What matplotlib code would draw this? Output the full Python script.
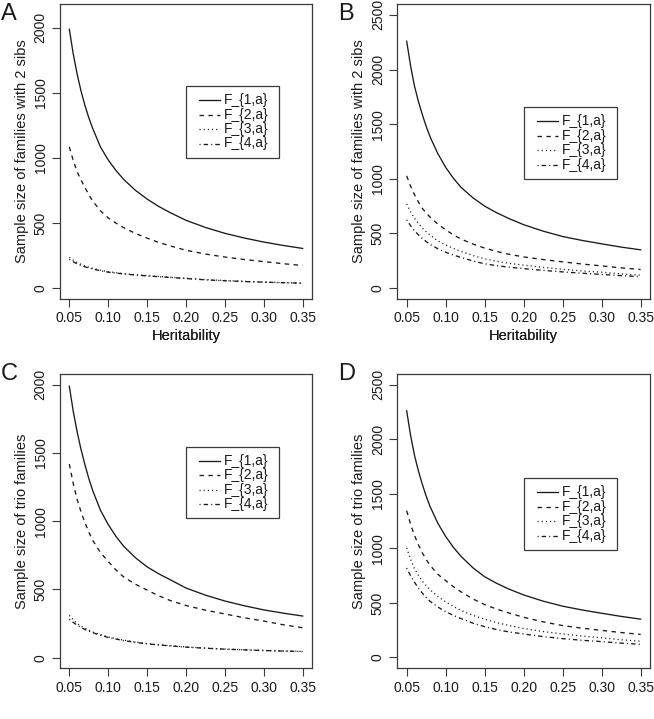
import matplotlib
matplotlib.use("Agg")
import matplotlib.pyplot as plt
from matplotlib.lines import Line2D
from matplotlib.patches import Rectangle

plt.rcParams['font.family'] = ['Liberation Sans', 'DejaVu Sans']
plt.rcParams['lines.scale_dashes'] = False

# ---------------- data ----------------
heritability = [0.05, 0.055, 0.06, 0.065, 0.07, 0.075, 0.08, 0.09, 0.10, 0.11, 0.12,
                0.135, 0.15, 0.165, 0.18, 0.20, 0.225, 0.25, 0.275, 0.30, 0.325, 0.35]
series_labels = ["F_{1,a}", "F_{2,a}", "F_{3,a}", "F_{4,a}"]

# Panel A: families with 2 sibs
A_F1 = [1988, 1800, 1645, 1515, 1405, 1310, 1228, 1085, 985, 904, 835, 752, 685, 628, 580, 522, 467, 422, 386, 355, 329, 306]
A_F2 = [1085, 981, 895, 831, 775, 719, 670, 595, 540, 500, 465, 421, 385, 352, 325, 292, 263, 240, 221, 205, 189, 175]
A_F3 = [238, 216, 198, 184, 172, 162, 153, 139, 128, 120, 113, 104, 97, 91, 85, 77, 67, 60, 53, 48, 44, 40]
A_F4 = [222, 204, 188, 176, 165, 156, 148, 135, 124, 117, 110, 102, 95, 89, 83, 75, 65, 58, 52, 47, 43, 39]

# Panel B: families with 2 sibs
B_F1 = [2260, 2035, 1850, 1710, 1590, 1480, 1385, 1230, 1105, 1004, 920, 826, 750, 691, 640, 580, 521, 472, 436, 405, 375, 350]
B_F2 = [1027, 933, 855, 788, 730, 688, 650, 585, 533, 487, 448, 403, 366, 336, 311, 285, 261, 240, 220, 203, 185, 170]
B_F3 = [770, 699, 640, 592, 550, 515, 485, 432, 395, 363, 335, 298, 268, 246, 228, 210, 189, 172, 157, 145, 130, 118]
B_F4 = [625, 571, 525, 488, 455, 426, 400, 360, 328, 302, 280, 248, 222, 206, 192, 178, 162, 148, 136, 125, 114, 104]

# Panel C: trio families
C_F1 = [1988, 1806, 1655, 1526, 1415, 1313, 1225, 1080, 975, 888, 815, 732, 665, 614, 570, 510, 458, 415, 380, 350, 326, 305]
C_F2 = [1418, 1276, 1160, 1068, 990, 920, 860, 770, 705, 642, 590, 538, 495, 453, 418, 382, 348, 320, 292, 268, 241, 219]
C_F3 = [310, 277, 250, 231, 215, 201, 188, 168, 152, 139, 128, 114, 103, 94, 87, 79, 70, 63, 58, 53, 49, 46]
C_F4 = [282, 258, 238, 221, 207, 194, 183, 164, 148, 136, 125, 112, 101, 93, 86, 77, 69, 62, 57, 52, 48, 45]

# Panel D: trio families
D_F1 = [2262, 2038, 1855, 1712, 1590, 1480, 1385, 1230, 1110, 1009, 925, 822, 740, 681, 630, 573, 516, 470, 435, 405, 376, 351]
D_F2 = [1346, 1223, 1120, 1034, 960, 899, 845, 762, 705, 648, 600, 536, 485, 444, 410, 368, 326, 292, 268, 248, 228, 211]
D_F3 = [1005, 900, 815, 753, 700, 658, 620, 560, 510, 467, 430, 386, 350, 320, 295, 265, 237, 215, 196, 180, 162, 148]
D_F4 = [820, 749, 690, 636, 590, 550, 515, 462, 420, 385, 355, 314, 282, 256, 235, 215, 191, 172, 157, 145, 131, 120]

x_ticks = [0.05, 0.10, 0.15, 0.20, 0.25, 0.30, 0.35]
y_ticks_2000 = [0, 500, 1000, 1500, 2000]
y_ticks_2500 = [0, 500, 1000, 1500, 2000, 2500]

# ---------------- figure ----------------
W, H = 654, 719
fig = plt.figure(figsize=(W / 100, H / 100), dpi=100)
fig.patch.set_facecolor('white')

INK = '#1a1a1a'
FRAME = '#3a3a3a'
styles = [
    dict(linestyle='-'),
    dict(linestyle=(0, (3.2, 3.2))),
    dict(linestyle=(0, (0.8, 2.2))),
    dict(linestyle=(0, (0.8, 2.2, 3.2, 2.2))),
]

def fx(px):
    return px / W

def fy(py):
    return 1 - py / H

panels = [
    # letter, box px (l, t, r, b), series, ylim, yticks, ylabel, legend box (l, t, w), letter pos
    ("A", (60, 4, 312, 299), [A_F1, A_F2, A_F3, A_F4], (-82, 2182), y_ticks_2000,
     "Sample size of families with 2 sibs", (185.7, 86.0, 93.6), (1, 3)),
    ("B", (397.3, 4, 650, 299), [B_F1, B_F2, B_F3, B_F4], (-100, 2600), y_ticks_2500,
     "Sample size of families with 2 sibs", (523.7, 107.3, 93.3), (338, 3)),
    ("C", (60, 374, 312, 668.3), [C_F1, C_F2, C_F3, C_F4], (-78, 2078), y_ticks_2000,
     "Sample size of trio families", (185.7, 446.7, 93.6), (1, 363)),
    ("D", (397.3, 374, 650, 668.3), [D_F1, D_F2, D_F3, D_F4], (-100, 2600), y_ticks_2500,
     "Sample size of trio families", (523.7, 478.3, 93.3), (338, 363)),
]

for letter, (l, t, r, b), series, ylim, yticks, ylabel, (lgl, lgt, lgw), (lx, ly) in panels:
    ax = fig.add_axes([fx(l), fy(b), (r - l) / W, (b - t) / H])
    for vals, st in zip(series, styles):
        ax.plot(heritability, vals, color=INK, lw=0.95, **st)
    ax.set_xlim(0.038, 0.362)
    ax.set_ylim(*ylim)
    ax.set_xticks(x_ticks)
    ax.set_xticklabels([f"{v:.2f}" for v in x_ticks])
    ax.set_yticks(yticks)
    ax.set_yticklabels([str(v) for v in yticks])
    for lab in ax.get_yticklabels():
        lab.set_rotation(90)
        lab.set_va('center')
        lab.set_ha('right')
    ax.tick_params(axis='both', direction='out', length=5.5, width=0.8,
                   color=FRAME, labelsize=10, labelcolor=INK, pad=3.5)
    for sp in ax.spines.values():
        sp.set_color(FRAME)
        sp.set_linewidth(0.9)
    ax.set_xlabel("Heritability", fontsize=10.5, color=INK)
    ax.xaxis.set_label_coords(0.5, -(329 - b) / (b - t))
    ax.set_ylabel(ylabel, fontsize=10.5, color=INK)
    ax.yaxis.set_label_coords((29 - 60) / 252, 0.5)

    # panel letter
    fig.text(fx(lx), fy(ly), letter, fontsize=17, color=INK, ha='left', va='top')

    # legend (R-style box)
    row = 14.5
    box_h = row * 4 + 13.5
    fig.add_artist(Rectangle((fx(lgl), fy(lgt + box_h)), lgw / W, box_h / H,
                             transform=fig.transFigure, facecolor='white',
                             edgecolor=FRAME, linewidth=0.9))
    for i, (lab, st) in enumerate(zip(series_labels, styles)):
        yc = lgt + 14 + i * row
        fig.add_artist(Line2D([fx(lgl + 13.3), fx(lgl + 34.3)], [fy(yc), fy(yc)],
                              transform=fig.transFigure, color=INK, lw=0.95, **st))
        fig.text(fx(lgl + 38), fy(yc), lab, fontsize=10, color=INK,
                 ha='left', va='center')

fig.savefig("out.png", dpi=100, facecolor='white')
